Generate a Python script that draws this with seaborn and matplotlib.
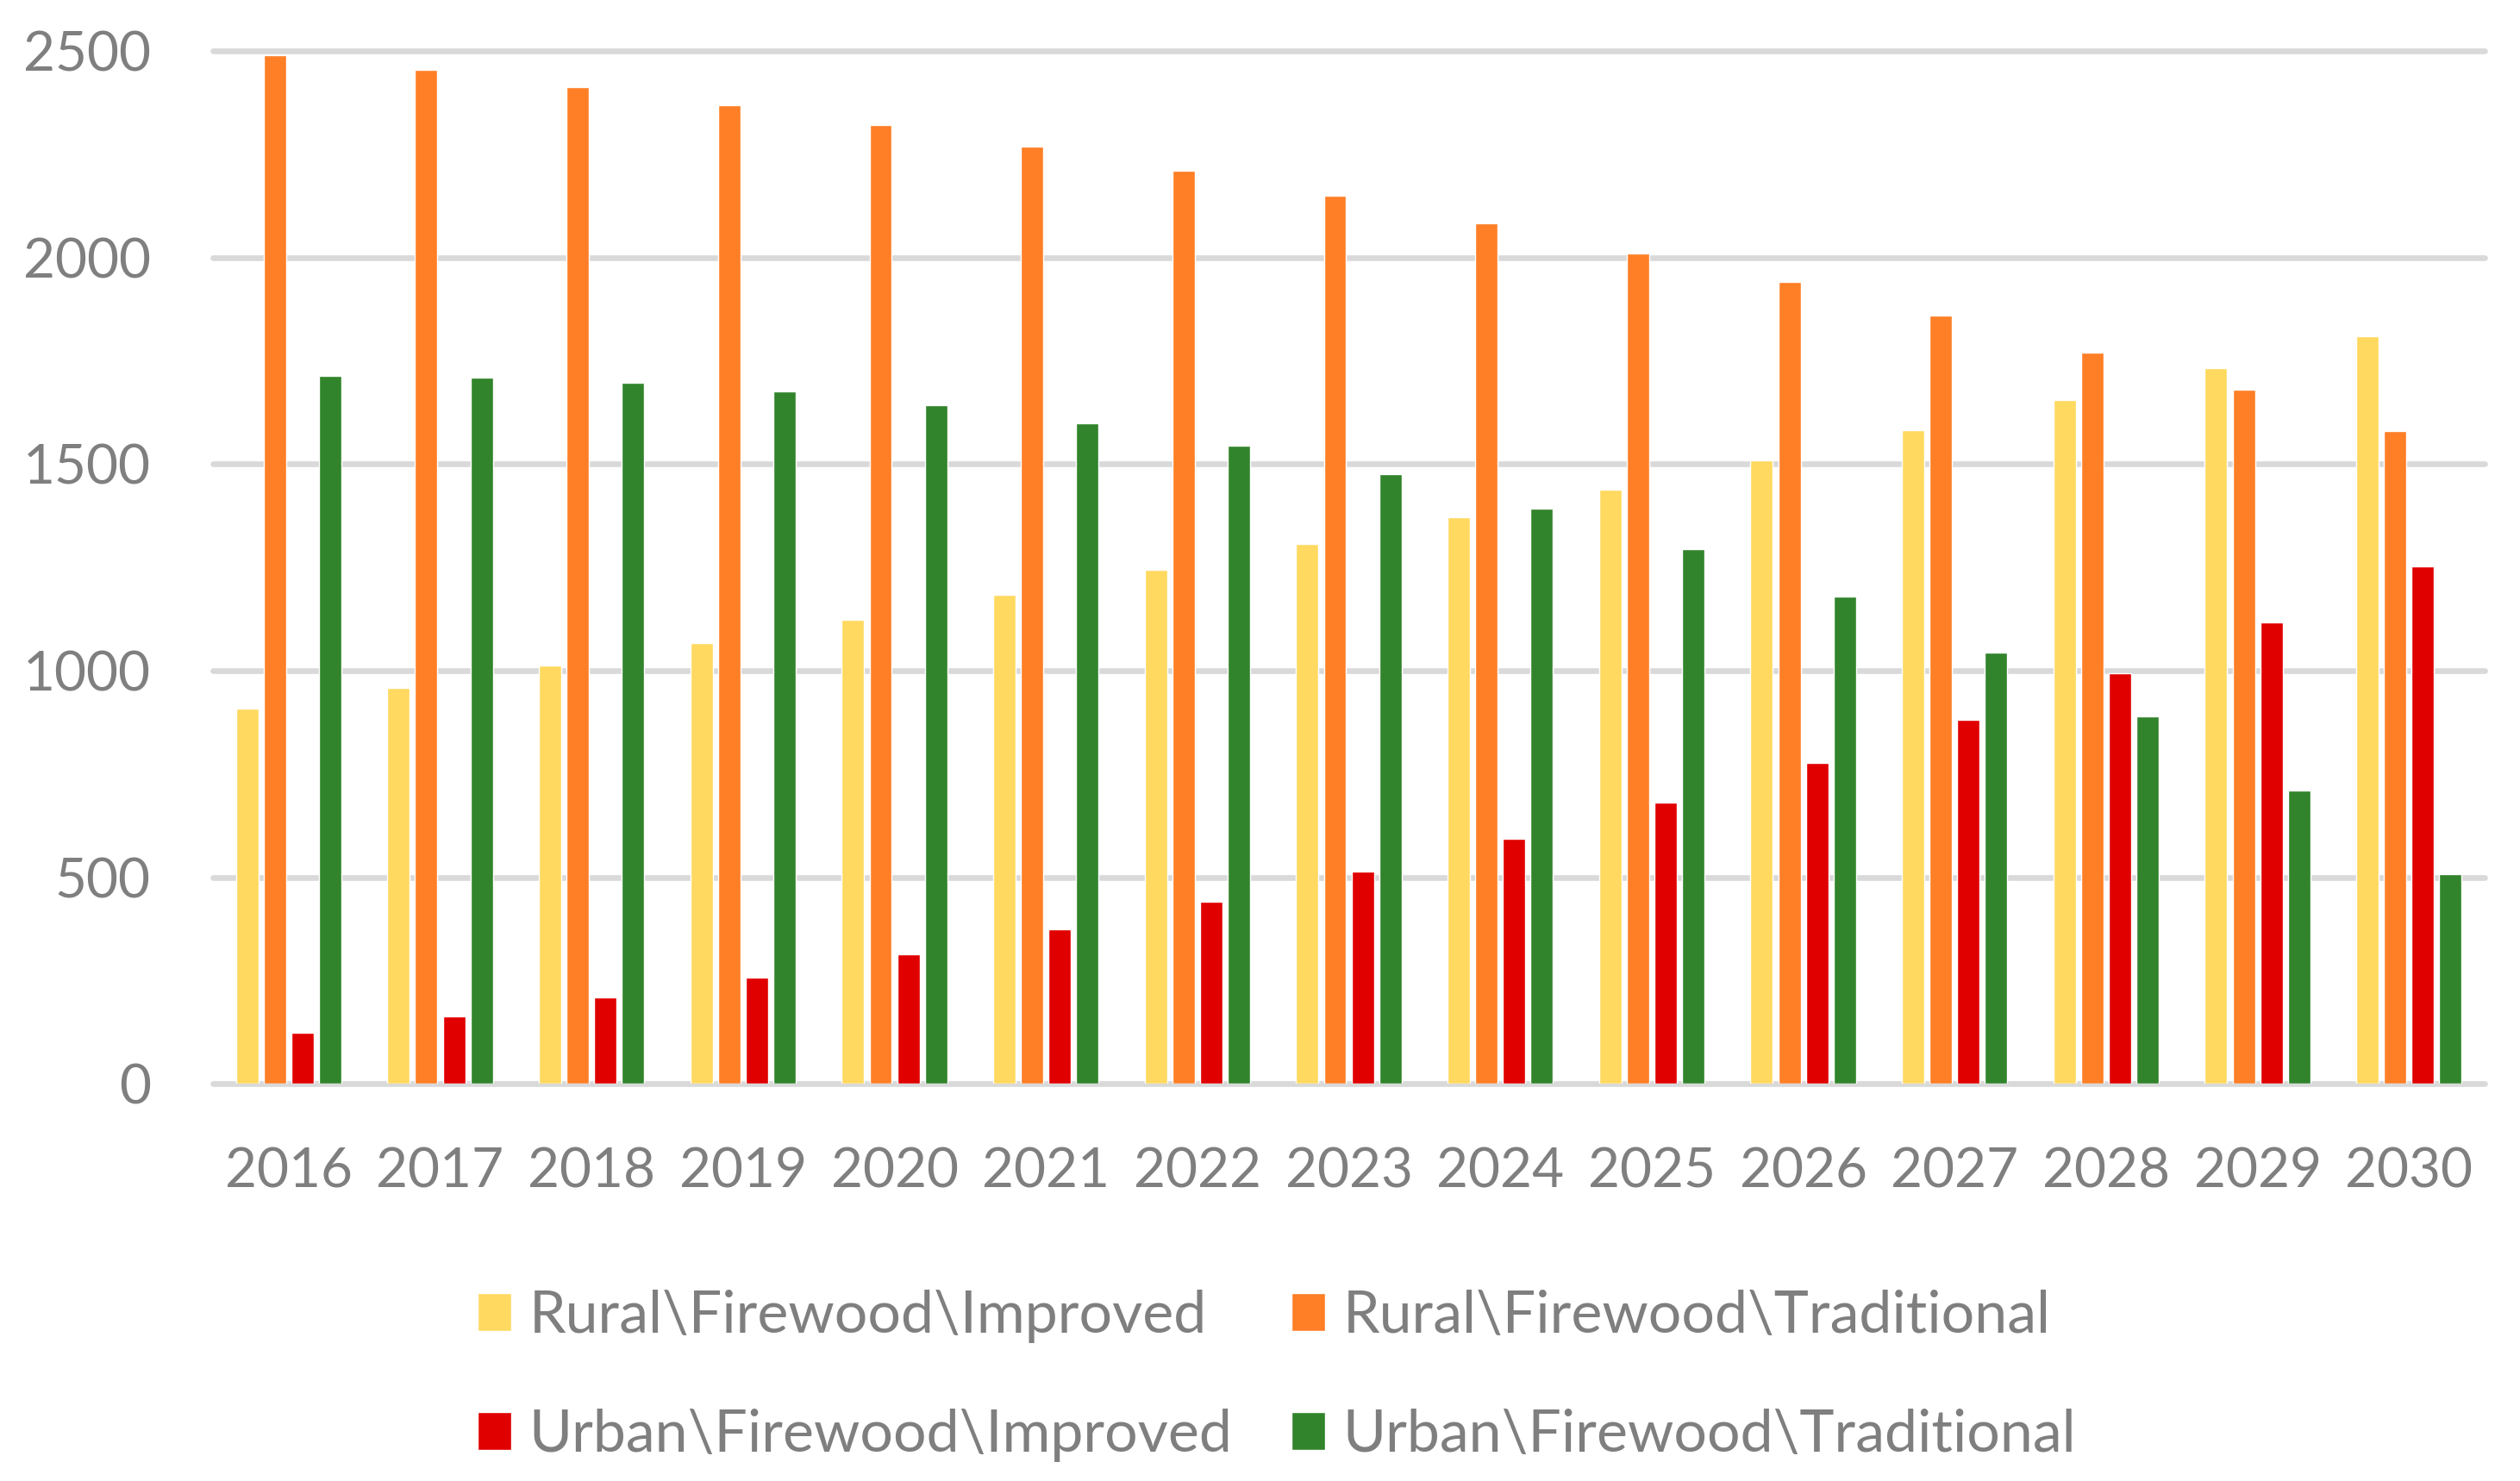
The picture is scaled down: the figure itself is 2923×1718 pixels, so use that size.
import pandas as pd
import matplotlib.pyplot as plt
import seaborn as sns

# -----------------------------
# Data
# -----------------------------
years = [str(y) for y in range(2016, 2031)]
rural_improved = [909, 958, 1013, 1067, 1123, 1184, 1245, 1307, 1371, 1439, 1510, 1583, 1656, 1732, 1809]
rural_traditional = [2491, 2455, 2413, 2370, 2322, 2270, 2211, 2150, 2084, 2010, 1941, 1860, 1771, 1680, 1580]
urban_improved = [123, 163, 208, 257, 313, 374, 440, 514, 592, 680, 776, 881, 994, 1117, 1252]
urban_traditional = [1713, 1710, 1697, 1676, 1643, 1600, 1544, 1477, 1392, 1295, 1180, 1044, 890, 709, 508]

series_names = [
    "Rural\\Firewood\\Improved",
    "Rural\\Firewood\\Traditional",
    "Urban\\Firewood\\Improved",
    "Urban\\Firewood\\Traditional",
]
series_colors = ["#FFD960", "#FF7F27", "#E00000", "#31842B"]
y_ticks = [0, 500, 1000, 1500, 2000, 2500]

# long-form table for seaborn
df = pd.DataFrame({
    "Year": years * 4,
    "Value": rural_improved + rural_traditional + urban_improved + urban_traditional,
    "Series": [s for s in series_names for _ in years],
})

# -----------------------------
# Style
# -----------------------------
sns.set_style("white")
plt.rcParams["font.family"] = ["Lato", "DejaVu Sans"]
text_color = "#7F7F7F"
grid_color = "#D9D9D9"
fs = 46

fig = plt.figure(figsize=(29.23, 17.18), dpi=100)
ax = fig.add_axes([0.0845, 0.2683, 0.9015, 0.6971])

sns.barplot(data=df, x="Year", y="Value", hue="Series", hue_order=series_names,
            palette=series_colors, width=0.73, gap=0.19, saturation=1,
            errorbar=None, ax=ax, zorder=3)

ax.set_ylim(0, 2500)
ax.set_yticks(y_ticks)
ax.set_xlabel("")
ax.set_ylabel("")
ax.yaxis.grid(True, color=grid_color, linewidth=4.8, zorder=0)
ax.set_axisbelow(True)
for line in ax.get_ygridlines():
    line.set_clip_on(False)
for side in ["top", "right", "left", "bottom"]:
    ax.spines[side].set_visible(False)

ax.tick_params(axis="x", length=0, pad=53, labelsize=fs, labelcolor=text_color)
ax.tick_params(axis="y", length=0, pad=52, labelsize=fs, labelcolor=text_color)

# -----------------------------
# Legend: two rows, rural on top
# -----------------------------
handles, labels = ax.get_legend_handles_labels()
ax.get_legend().remove()
order = [0, 2, 1, 3]
fig.legend([handles[i] for i in order], [labels[i] for i in order],
           ncol=2, loc="center left", bbox_to_anchor=(0.1895, 0.071),
           frameon=False, fontsize=49, labelcolor=text_color,
           handlelength=0.58, handleheight=0.62, handletextpad=0.3,
           columnspacing=1.0, labelspacing=1.12, borderpad=0, borderaxespad=0)

fig.savefig("out.png", dpi=100)
